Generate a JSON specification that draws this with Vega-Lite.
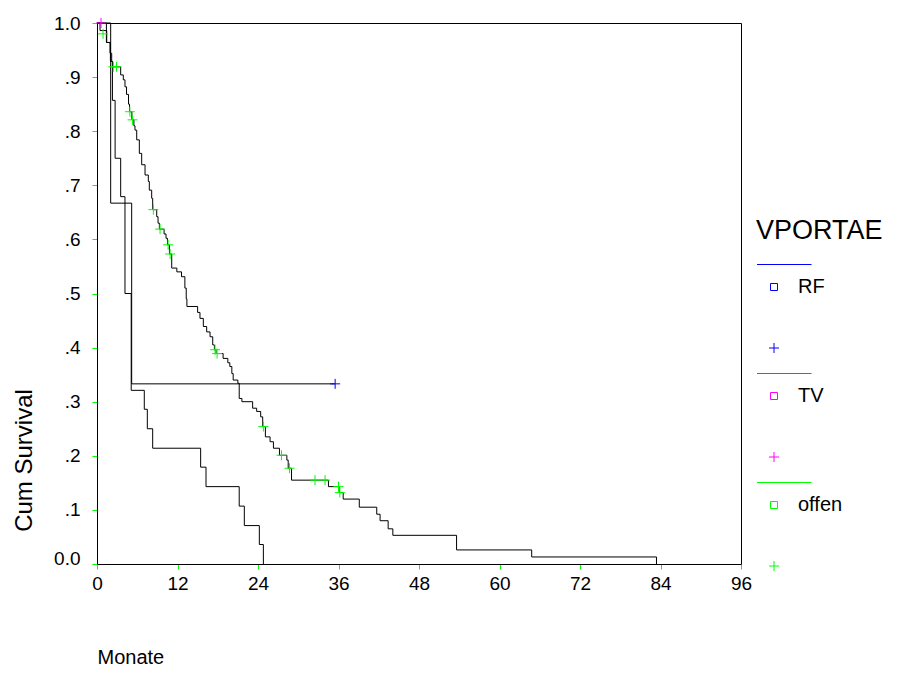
{
  "$schema": "https://vega.github.io/schema/vega-lite/v6.json",
  "width": 644,
  "height": 541,
  "autosize": {"type": "none"},
  "padding": {"left": 97, "top": 23, "right": 156, "bottom": 109},
  "background": "white",
  "config": {
    "view": {"stroke": "black", "strokeWidth": 1},
    "font": "Liberation Sans",
    "axis": {
      "grid": false,
      "domainColor": "black",
      "domainWidth": 1,
      "tickColor": "#00ff00",
      "tickSize": 5,
      "tickWidth": 1,
      "labelFont": "Liberation Sans",
      "labelFontSize": 19,
      "labelColor": "black",
      "titleFont": "Liberation Sans",
      "titleFontWeight": "normal",
      "titleColor": "black",
      "labelFlush": false
    }
  },
  "datasets": {
    "curves": [
      {"gruppe": "RF", "monate": 0, "surv": 1},
      {"gruppe": "RF", "monate": 2.04, "surv": 0.667},
      {"gruppe": "RF", "monate": 5.17, "surv": 0.333},
      {"gruppe": "RF", "monate": 35.5, "surv": 0.333},
      {"gruppe": "TV", "monate": 0, "surv": 1},
      {"gruppe": "TV", "monate": 1.4, "surv": 0.964},
      {"gruppe": "TV", "monate": 2.0, "surv": 0.929},
      {"gruppe": "TV", "monate": 2.3, "surv": 0.857},
      {"gruppe": "TV", "monate": 2.7, "surv": 0.75},
      {"gruppe": "TV", "monate": 3.53, "surv": 0.679},
      {"gruppe": "TV", "monate": 4.17, "surv": 0.5},
      {"gruppe": "TV", "monate": 5.1, "surv": 0.321},
      {"gruppe": "TV", "monate": 7.05, "surv": 0.286},
      {"gruppe": "TV", "monate": 7.5, "surv": 0.25},
      {"gruppe": "TV", "monate": 8.3, "surv": 0.214},
      {"gruppe": "TV", "monate": 15.45, "surv": 0.179},
      {"gruppe": "TV", "monate": 16.25, "surv": 0.143},
      {"gruppe": "TV", "monate": 21.2, "surv": 0.107},
      {"gruppe": "TV", "monate": 21.96, "surv": 0.071},
      {"gruppe": "TV", "monate": 24.2, "surv": 0.036},
      {"gruppe": "TV", "monate": 24.8, "surv": 0},
      {"gruppe": "offen", "monate": 0, "surv": 1},
      {"gruppe": "offen", "monate": 0.45, "surv": 0.986},
      {"gruppe": "offen", "monate": 1.45, "surv": 0.964},
      {"gruppe": "offen", "monate": 1.94, "surv": 0.944},
      {"gruppe": "offen", "monate": 2.19, "surv": 0.929},
      {"gruppe": "offen", "monate": 2.3, "surv": 0.919},
      {"gruppe": "offen", "monate": 3.53, "surv": 0.904},
      {"gruppe": "offen", "monate": 3.92, "surv": 0.895},
      {"gruppe": "offen", "monate": 4.17, "surv": 0.882},
      {"gruppe": "offen", "monate": 4.4, "surv": 0.868},
      {"gruppe": "offen", "monate": 4.7, "surv": 0.85},
      {"gruppe": "offen", "monate": 4.85, "surv": 0.836},
      {"gruppe": "offen", "monate": 5.2, "surv": 0.821},
      {"gruppe": "offen", "monate": 5.5, "surv": 0.81},
      {"gruppe": "offen", "monate": 5.66, "surv": 0.802},
      {"gruppe": "offen", "monate": 5.92, "surv": 0.784},
      {"gruppe": "offen", "monate": 6.31, "surv": 0.759},
      {"gruppe": "offen", "monate": 6.66, "surv": 0.738},
      {"gruppe": "offen", "monate": 7.16, "surv": 0.719},
      {"gruppe": "offen", "monate": 7.65, "surv": 0.707},
      {"gruppe": "offen", "monate": 7.8, "surv": 0.691},
      {"gruppe": "offen", "monate": 8.15, "surv": 0.676},
      {"gruppe": "offen", "monate": 8.3, "surv": 0.655},
      {"gruppe": "offen", "monate": 8.9, "surv": 0.642},
      {"gruppe": "offen", "monate": 9.1, "surv": 0.63},
      {"gruppe": "offen", "monate": 9.3, "surv": 0.619},
      {"gruppe": "offen", "monate": 10.0, "surv": 0.61},
      {"gruppe": "offen", "monate": 10.29, "surv": 0.602},
      {"gruppe": "offen", "monate": 10.5, "surv": 0.59},
      {"gruppe": "offen", "monate": 10.8, "surv": 0.573},
      {"gruppe": "offen", "monate": 11.14, "surv": 0.547},
      {"gruppe": "offen", "monate": 11.9, "surv": 0.54},
      {"gruppe": "offen", "monate": 12.6, "surv": 0.531},
      {"gruppe": "offen", "monate": 13.1, "surv": 0.51},
      {"gruppe": "offen", "monate": 13.3, "surv": 0.49},
      {"gruppe": "offen", "monate": 13.4, "surv": 0.476},
      {"gruppe": "offen", "monate": 15.0, "surv": 0.465},
      {"gruppe": "offen", "monate": 15.35, "surv": 0.454},
      {"gruppe": "offen", "monate": 15.85, "surv": 0.439},
      {"gruppe": "offen", "monate": 16.35, "surv": 0.429},
      {"gruppe": "offen", "monate": 16.85, "surv": 0.42},
      {"gruppe": "offen", "monate": 17.25, "surv": 0.405},
      {"gruppe": "offen", "monate": 17.5, "surv": 0.396},
      {"gruppe": "offen", "monate": 17.75, "surv": 0.389},
      {"gruppe": "offen", "monate": 18.8, "surv": 0.38},
      {"gruppe": "offen", "monate": 19.5, "surv": 0.372},
      {"gruppe": "offen", "monate": 19.8, "surv": 0.365},
      {"gruppe": "offen", "monate": 20.1, "surv": 0.352},
      {"gruppe": "offen", "monate": 20.3, "surv": 0.34},
      {"gruppe": "offen", "monate": 21.0, "surv": 0.334},
      {"gruppe": "offen", "monate": 21.2, "surv": 0.306},
      {"gruppe": "offen", "monate": 21.6, "surv": 0.3},
      {"gruppe": "offen", "monate": 23.2, "surv": 0.288},
      {"gruppe": "offen", "monate": 23.8, "surv": 0.282},
      {"gruppe": "offen", "monate": 24.4, "surv": 0.272},
      {"gruppe": "offen", "monate": 24.7, "surv": 0.254},
      {"gruppe": "offen", "monate": 25.1, "surv": 0.235},
      {"gruppe": "offen", "monate": 25.8, "surv": 0.226},
      {"gruppe": "offen", "monate": 26.3, "surv": 0.214},
      {"gruppe": "offen", "monate": 27.2, "surv": 0.201},
      {"gruppe": "offen", "monate": 28.3, "surv": 0.192},
      {"gruppe": "offen", "monate": 28.5, "surv": 0.177},
      {"gruppe": "offen", "monate": 29.0, "surv": 0.155},
      {"gruppe": "offen", "monate": 34.5, "surv": 0.143},
      {"gruppe": "offen", "monate": 36.1, "surv": 0.132},
      {"gruppe": "offen", "monate": 36.7, "surv": 0.12},
      {"gruppe": "offen", "monate": 39.1, "surv": 0.105},
      {"gruppe": "offen", "monate": 41.7, "surv": 0.092},
      {"gruppe": "offen", "monate": 42.2, "surv": 0.08},
      {"gruppe": "offen", "monate": 43.4, "surv": 0.065},
      {"gruppe": "offen", "monate": 44.1, "surv": 0.053},
      {"gruppe": "offen", "monate": 53.6, "surv": 0.026},
      {"gruppe": "offen", "monate": 64.8, "surv": 0.013},
      {"gruppe": "offen", "monate": 83.4, "surv": 0}
    ],
    "censored": [
      {"gruppe": "RF", "monate": 35.5, "surv": 0.333},
      {"gruppe": "TV", "monate": 0.6, "surv": 1},
      {"gruppe": "offen", "monate": 0.9, "surv": 0.98},
      {"gruppe": "offen", "monate": 2.43, "surv": 0.919},
      {"gruppe": "offen", "monate": 2.9, "surv": 0.919},
      {"gruppe": "offen", "monate": 4.9, "surv": 0.836},
      {"gruppe": "offen", "monate": 5.3, "surv": 0.821},
      {"gruppe": "offen", "monate": 8.4, "surv": 0.655},
      {"gruppe": "offen", "monate": 9.4, "surv": 0.619},
      {"gruppe": "offen", "monate": 10.6, "surv": 0.59},
      {"gruppe": "offen", "monate": 10.9, "surv": 0.573},
      {"gruppe": "offen", "monate": 17.6, "surv": 0.396},
      {"gruppe": "offen", "monate": 17.9, "surv": 0.389},
      {"gruppe": "offen", "monate": 24.8, "surv": 0.254},
      {"gruppe": "offen", "monate": 27.5, "surv": 0.201},
      {"gruppe": "offen", "monate": 28.7, "surv": 0.177},
      {"gruppe": "offen", "monate": 32.5, "surv": 0.155},
      {"gruppe": "offen", "monate": 34.0, "surv": 0.155},
      {"gruppe": "offen", "monate": 36.0, "surv": 0.143},
      {"gruppe": "offen", "monate": 36.2, "surv": 0.132}
    ]
  },
  "layer": [
    {
      "data": {"name": "curves"},
      "mark": {"type": "line", "interpolate": "step-after", "color": "black", "strokeWidth": 1},
      "encoding": {
        "x": {
          "field": "monate", "type": "quantitative",
          "scale": {"domain": [0, 96], "nice": false, "zero": false},
          "axis": {
            "values": [0, 12, 24, 36, 48, 60, 72, 84, 96],
            "labelPadding": 5,
            "title": "Monate",
            "titleFontSize": 20,
            "titleAnchor": "start",
            "titleAlign": "left",
            "titleBaseline": "middle",
            "titleX": 0,
            "titleY": 93
          }
        },
        "y": {
          "field": "surv", "type": "quantitative",
          "scale": {"domain": [0, 1], "nice": false},
          "axis": {
            "values": [0, 0.1, 0.2, 0.3, 0.4, 0.5, 0.6, 0.7, 0.8, 0.9, 1],
            "labelExpr": "datum.value == 0 ? '0.0' : (datum.value == 1 ? '1.0' : '.' + format(datum.value * 10, '.0f'))",
            "labelBaseline": {"condition": {"test": "datum.value == 0", "value": "alphabetic"}, "value": "middle"},
            "labelPadding": 12,
            "title": "Cum Survival",
            "titleFontSize": 24,
            "titleAngle": 270,
            "titleAlign": "center",
            "titleBaseline": "middle",
            "titleX": -73,
            "titleY": 437
          }
        },
        "detail": {"field": "gruppe"}
      }
    },
    {
      "data": {"name": "censored"},
      "mark": {"type": "point", "shape": "M-1,0H1M0,-1V1", "size": 100, "filled": false, "strokeWidth": 1, "opacity": 1},
      "encoding": {
        "x": {"field": "monate", "type": "quantitative"},
        "y": {"field": "surv", "type": "quantitative"},
        "color": {
          "field": "gruppe", "type": "nominal",
          "scale": {"domain": ["RF", "TV", "offen"], "range": ["#0000ff", "#ff00ff", "#00ff00"]},
          "legend": {
            "title": "VPORTAE",
            "orient": "none",
            "legendX": 659,
            "legendY": 195,
            "padding": 0,
            "titleFont": "Liberation Sans",
            "titleFontSize": 27,
            "titleFontWeight": "normal",
            "titleColor": "black",
            "titlePadding": 32,
            "labelFont": "Liberation Sans",
            "labelFontSize": 20,
            "labelColor": "black",
            "labelOffset": 22,
            "symbolType": "M-9,-22.5H45.5M4.5,-3.5H11.5V3.5H4.5ZM3,61H13M8,56V66",
            "symbolSize": 4,
            "symbolStrokeWidth": 1,
            "symbolFillColor": "transparent",
            "symbolOpacity": 1,
            "rowPadding": 16,
            "encode": {
              "symbols": {
                "shape": {"signal": "datum.value == 'offen' ? 'M-9,-22.5H45.5M4.5,-3.5H11.5V3.5H4.5ZM3,50H13M8,45V55' : 'M-9,-22.5H45.5M4.5,-3.5H11.5V3.5H4.5ZM3,61H13M8,56V66'"}
              }
            }
          }
        }
      }
    }
  ]
}
